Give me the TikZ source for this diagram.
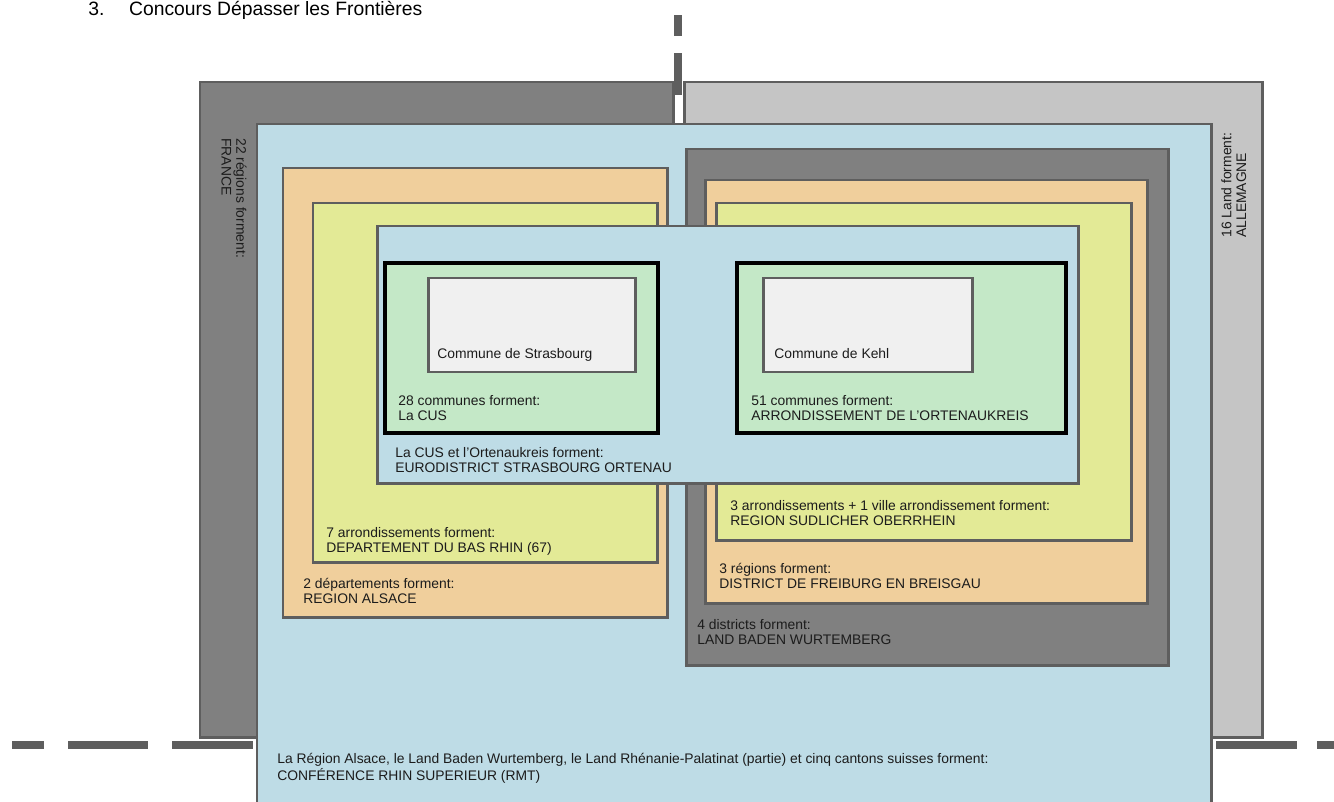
\documentclass[tikz,border=0pt]{standalone}
\usepackage{fontspec}
\setmainfont{Liberation Sans}
\usepackage{tikz}
\usetikzlibrary{positioning}
\definecolor{RMTEdge}{HTML}{5E5E5E}
\definecolor{RMTInk}{HTML}{1C1C1C}
\definecolor{FraGray}{HTML}{808080}
\definecolor{DeuGray}{HTML}{C5C5C5}
\definecolor{RhinBlue}{HTML}{BEDCE6}
\definecolor{ZoneOrange}{HTML}{F0CF9C}
\definecolor{ZoneYellow}{HTML}{E3EA96}
\definecolor{CusGreen}{HTML}{C4E8C7}
\definecolor{ComWhite}{HTML}{F0F0F0}

\begin{document}
\begin{tikzpicture}[
  x=0.02cm,y=-0.02cm,
  font=\fontsize{7.9}{8.4}\selectfont,
  zone/.style={draw=RMTEdge,line width=1.7pt},
  grouping/.style={draw=black,line width=2.3pt,fill=CusGreen},
  zonetext/.style={anchor=base west,align=left,inner sep=0pt,text=RMTInk},
  frontier/.style={draw=RMTEdge,line width=4.5pt}
]
\useasboundingbox (0,0) rectangle (1334,801);

\node[anchor=base west,inner sep=0pt,font=\fontsize{11}{13}\selectfont] (title) at (88,15)
  {3.\hspace{14pt}Concours Dépasser les Frontières};

% national frames
\draw[zone,fill=FraGray] (200,82) rectangle (673,737);
\draw[zone,fill=DeuGray] (684,82) rectangle (1262,737);
\draw[zone,fill=RhinBlue] (257,124) rectangle (1211,812);

% Alsace side
\draw[zone,fill=ZoneOrange] (283,168) rectangle (667,617);
\draw[zone,fill=ZoneYellow] (313,203) rectangle (657,562);

% Baden side
\draw[zone,fill=FraGray] (686,149) rectangle (1168,665);
\draw[zone,fill=ZoneOrange] (705,180) rectangle (1147,603);
\draw[zone,fill=ZoneYellow] (716,203) rectangle (1131,540);

% eurodistrict and communes
\draw[zone,fill=RhinBlue] (377,226) rectangle (1078,483);
\draw[grouping] (385,263) rectangle (658,433);
\draw[grouping] (737,263) rectangle (1066,433);
\draw[zone,fill=ComWhite] (428,278) rectangle (635,372);
\draw[zone,fill=ComWhite] (763,278) rectangle (972,372);

% frontier dashes
\draw[frontier] (678,15) -- (678,36);
\draw[frontier] (678,53) -- (678,95);
\foreach \a/\b in {12/44,68/148,172/253,1216/1297,1317/1340} {
  \draw[frontier] (\a,745) -- (\b,745);
}

% labels (base = last line)
\node[zonetext] (strasbourg) at (437,358) {Commune de Strasbourg};
\node[zonetext] (kehl) at (774,358) {Commune de Kehl};
\node[zonetext] (cus) at (398,420) {28 communes forment:\\La CUS};
\node[zonetext] (ortenau) at (751,420) {51 communes forment:\\ARRONDISSEMENT DE L’ORTENAUKREIS};
\node[zonetext] (euro) at (395,472) {La CUS et l’Ortenaukreis forment:\\EURODISTRICT STRASBOURG ORTENAU};
\node[zonetext] (oberrhein) at (730,525) {3 arrondissements + 1 ville arrondissement forment:\\REGION SUDLICHER OBERRHEIN};
\node[zonetext] (basrhin) at (326,552) {7 arrondissements forment:\\DEPARTEMENT DU BAS RHIN (67)};
\node[zonetext] (freiburg) at (719,588) {3 régions forment:\\DISTRICT DE FREIBURG EN BREISGAU};
\node[zonetext] (alsace) at (303,603) {2 départements forment:\\REGION ALSACE};
\node[zonetext] (baden) at (697,644) {4 districts forment:\\LAND BADEN WURTEMBERG};
\node[zonetext] (rmt) at (277,780) {La Région Alsace, le Land Baden Wurtemberg, le Land Rhénanie-Palatinat (partie) et cinq cantons suisses forment:\\CONFÉRENCE RHIN SUPERIEUR (RMT)};

\node[zonetext,anchor=north west,rotate=-90] (france) at (247,138) {22 régions forment:\\FRANCE};
\node[zonetext,anchor=north west,rotate=90] (allemagne) at (1221,238) {16 Land forment:\\ALLEMAGNE};
\end{tikzpicture}
\end{document}
